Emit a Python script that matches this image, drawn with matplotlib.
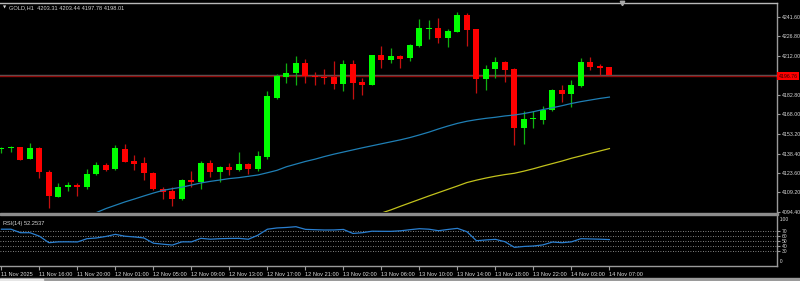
import matplotlib

matplotlib.use("Agg")

import matplotlib.pyplot as plt
from matplotlib.patches import Rectangle

# -----------------------------------------------------------------------------
# Data (GOLD, H1)
# -----------------------------------------------------------------------------

OPEN = [
    4141.9, 4142.8, 4143.4, 4134.4, 4142.9, 4124.8, 4106.0, 4113.0, 4114.8, 4113.3,
    4122.8, 4129.6, 4126.8, 4142.2, 4132.9, 4131.6, 4124.1, 4112.0, 4110.5, 4104.2,
    4118.5, 4116.8, 4131.4, 4124.3, 4128.1, 4125.8, 4130.6, 4126.6, 4136.1, 4180.3,
    4196.4, 4199.2, 4207.0, 4196.7, 4196.2, 4196.2, 4191.1, 4206.0, 4192.4, 4190.1,
    4212.8, 4209.2, 4211.7, 4210.2, 4219.5, 4232.5, 4233.4, 4225.3, 4230.3, 4242.9,
    4232.1, 4194.9, 4202.2, 4207.2, 4202.2, 4157.7, 4164.3, 4164.0, 4171.3, 4186.1,
    4183.4, 4189.6, 4207.2, 4204.5, 4203.31,
]
HIGH = [
    4143.7, 4144.2, 4143.7, 4146.7, 4143.4, 4125.8, 4116.3, 4117.3, 4116.3, 4126.6,
    4131.9, 4131.1, 4144.7, 4145.7, 4137.4, 4135.6, 4124.6, 4113.0, 4113.0, 4119.0,
    4125.3, 4132.6, 4133.4, 4129.1, 4131.1, 4139.7, 4131.6, 4140.4, 4185.9, 4198.4,
    4207.0, 4212.2, 4209.7, 4199.9, 4201.9, 4208.2, 4208.7, 4209.0, 4195.7, 4213.0,
    4219.5, 4217.8, 4212.8, 4220.8, 4239.6, 4239.1, 4240.6, 4232.3, 4245.4, 4244.2,
    4232.6, 4205.2, 4211.0, 4208.2, 4203.2, 4170.8, 4170.6, 4174.3, 4187.1, 4190.1,
    4193.9, 4210.5, 4211.5, 4205.7, 4203.44,
]
LOW = [
    4139.1, 4139.4, 4133.6, 4134.1, 4119.8, 4097.2, 4105.5, 4110.5, 4106.5, 4111.8,
    4122.3, 4125.6, 4126.3, 4131.9, 4126.1, 4118.3, 4111.0, 4104.0, 4099.0, 4103.5,
    4113.0, 4112.0, 4121.1, 4117.3, 4122.3, 4125.3, 4122.8, 4125.6, 4134.6, 4179.6,
    4191.9, 4190.2, 4191.9, 4190.4, 4190.9, 4187.1, 4185.9, 4179.3, 4182.9, 4189.9,
    4202.7, 4206.7, 4203.0, 4208.0, 4218.8, 4224.8, 4221.5, 4218.8, 4230.1, 4219.8,
    4184.1, 4186.4, 4195.2, 4192.7, 4144.9, 4145.7, 4157.7, 4160.8, 4170.6, 4177.6,
    4173.3, 4188.6, 4201.4, 4197.4, 4197.78,
]
CLOSE = [
    4142.0, 4143.0, 4133.9, 4142.7, 4124.8, 4106.5, 4113.3, 4114.8, 4113.5, 4123.1,
    4130.1, 4126.1, 4142.7, 4132.4, 4130.9, 4123.6, 4111.5, 4109.8, 4104.2, 4118.5,
    4116.8, 4131.6, 4124.3, 4128.1, 4126.1, 4130.6, 4126.8, 4136.6, 4181.6, 4196.7,
    4199.4, 4207.0, 4197.2, 4195.9, 4195.7, 4191.1, 4206.0, 4191.9, 4190.1, 4212.8,
    4209.0, 4211.7, 4210.0, 4220.3, 4232.8, 4233.1, 4225.3, 4230.6, 4242.9, 4231.6,
    4194.9, 4202.2, 4207.2, 4201.4, 4157.7, 4164.3, 4164.8, 4171.6, 4186.4, 4183.6,
    4190.1, 4207.2, 4204.0, 4203.0, 4198.01,
]

# moving averages, first bar index where each becomes visible
MA_BLUE_START = 10
MA_BLUE = [
    4094.0, 4097.0, 4099.5, 4102.0, 4104.2, 4106.5, 4108.7, 4110.7, 4112.0, 4113.1,
    4114.7, 4116.3, 4117.5, 4118.5, 4119.6, 4120.3, 4121.3, 4122.3, 4124.0, 4125.8,
    4128.5, 4130.5, 4132.5, 4134.2, 4136.2, 4138.0, 4139.6, 4141.2, 4142.8, 4144.3,
    4145.8, 4147.3, 4148.8, 4150.5, 4152.5, 4154.6, 4157.0, 4159.2, 4161.2, 4162.8,
    4164.0, 4165.0, 4165.8, 4166.8, 4167.5, 4168.6, 4170.0, 4171.6, 4173.0, 4174.5,
    4176.2, 4177.6, 4178.8, 4180.0, 4181.0,
]
MA_YELLOW_START = 40
MA_YELLOW = [
    4093.6, 4096.0, 4098.7, 4101.3, 4103.9, 4106.5, 4109.0, 4111.5, 4114.0, 4116.6,
    4118.4, 4120.0, 4121.4, 4122.6, 4123.6, 4125.2, 4127.0, 4129.0, 4130.9, 4132.8,
    4134.9, 4136.7, 4138.6, 4140.4, 4142.2,
]

RSI = [
    73.0, 73.0, 66.0, 66.0, 59.0, 46.0, 47.7, 47.8, 47.5, 54.0,
    55.5, 58.5, 62.7, 59.0, 57.5, 55.5, 45.0, 43.0, 41.3, 47.7,
    47.7, 54.7, 53.0, 54.0, 54.5, 54.7, 53.0, 61.0, 73.0, 75.5,
    76.5, 78.0, 72.7, 72.0, 71.4, 71.5, 72.5, 64.5, 66.0, 69.0,
    68.8, 68.7, 69.8, 72.0, 74.0, 73.0, 70.0, 72.5, 74.7, 68.0,
    50.0, 51.5, 52.7, 48.0, 36.7, 38.5, 39.4, 41.6, 47.3, 46.0,
    47.7, 54.0, 53.5, 53.0, 52.2537,
]
RSI_LEVELS = [70, 60, 50, 40, 30]

PRICE_TICKS = [4241.60, 4226.80, 4212.00, 4182.80, 4168.00, 4153.20,
               4138.40, 4123.60, 4109.20, 4094.40]

TIME_LABELS = [
    "11 Nov 2025", "11 Nov 16:00", "11 Nov 20:00", "12 Nov 01:00", "12 Nov 05:00",
    "12 Nov 09:00", "12 Nov 13:00", "12 Nov 17:00", "12 Nov 21:00", "13 Nov 02:00",
    "13 Nov 06:00", "13 Nov 10:00", "13 Nov 14:00", "13 Nov 18:00", "13 Nov 22:00",
    "14 Nov 03:00", "14 Nov 07:00",
]
TIME_LABEL_STEP = 4

ASK_PRICE = 4198.01
BID_PRICE = 4196.76
TITLE = "GOLD,H1  4203.31 4203.44 4197.78 4198.01"

# -----------------------------------------------------------------------------
# Style
# -----------------------------------------------------------------------------

W, H = 800, 281
BG = "#000000"
BULL = "#00ff00"
BEAR = "#ff0000"
BULL_WICK = "#10b010"
BEAR_WICK = "#c41010"
BLUE = "#1f7fb5"
YELLOW = "#c2c21c"
RSI_COLOR = "#2a7fd0"
FRAME = "#9a9a9a"
TEXT = "#d8d8d8"
FS = 4.1
FS_SCALE = 3.8

PLOT_RIGHT = 777  # px
MAIN_TOP, MAIN_BOTTOM = 2.5, 212.0  # px
RSI_TOP, RSI_BOTTOM = 215.7, 265.7  # px
BAR_PX = 9.5

plt.rcParams["font.family"] = ["Liberation Sans", "DejaVu Sans"]


def fig_rect(x0, y0, x1, y1):
    """pixel box (top-left origin) -> figure fraction [l, b, w, h]"""
    return [x0 / W, 1 - y1 / H, (x1 - x0) / W, (y1 - y0) / H]


fig = plt.figure(figsize=(W / 100, H / 100), dpi=100, facecolor=BG)

ax = fig.add_axes(fig_rect(0, MAIN_TOP, PLOT_RIGHT, MAIN_BOTTOM), facecolor=BG)
ax_rsi = fig.add_axes(fig_rect(0, RSI_TOP, PLOT_RIGHT, RSI_BOTTOM), facecolor=BG)

n_vis = PLOT_RIGHT / BAR_PX
for a in (ax, ax_rsi):
    a.set_xlim(-0.15, n_vis - 0.15)
    for side in ("left", "top", "bottom", "right"):
        a.spines[side].set_visible(False)
    a.spines["right"].set_visible(True)
    a.spines["right"].set_color(FRAME)
    a.spines["right"].set_linewidth(1.0)

ax.spines["top"].set_visible(True)
ax.spines["top"].set_color("#b8b8b8")
ax.spines["top"].set_linewidth(1.0)
ax_rsi.spines["bottom"].set_visible(True)
ax_rsi.spines["bottom"].set_color(FRAME)
ax_rsi.spines["bottom"].set_linewidth(1.0)

# price scale: 0.7537 USD per pixel
ax.set_ylim(4094.4, 4252.3)

# -----------------------------------------------------------------------------
# Candles
# -----------------------------------------------------------------------------

xs = list(range(len(OPEN)))
bull = [c >= o for o, c in zip(OPEN, CLOSE)]

ax.vlines(xs, LOW, HIGH, colors=[BULL_WICK if b else BEAR_WICK for b in bull],
          linewidth=0.9, zorder=2)

bottoms = [min(o, c) for o, c in zip(OPEN, CLOSE)]
heights = [max(abs(c - o), 0.8) for o, c in zip(OPEN, CLOSE)]
ax.bar(xs, heights, bottom=bottoms, width=0.63,
       color=[BULL if b else BEAR for b in bull], linewidth=0, zorder=3)

# moving averages
ax.plot(range(MA_BLUE_START, MA_BLUE_START + len(MA_BLUE)), MA_BLUE,
        color=BLUE, linewidth=0.9, zorder=4)
ax.plot(range(MA_YELLOW_START, MA_YELLOW_START + len(MA_YELLOW)), MA_YELLOW,
        color=YELLOW, linewidth=0.9, zorder=4)

# ask / bid lines
ax.axhline(ASK_PRICE, color="#5c5c5c", linewidth=1.0, zorder=1)
ax.axhline(BID_PRICE, color="#8e0a0a", linewidth=1.0, zorder=1)

# right price scale
ax.yaxis.tick_right()
ax.set_yticks(PRICE_TICKS, [f"{p:.2f}" for p in PRICE_TICKS])
ax.tick_params(axis="y", colors=FRAME, labelcolor=TEXT, labelsize=FS_SCALE,
               length=2.5, width=0.8, pad=0.8)
ax.set_xticks([])

ax.text(1.002, BID_PRICE, f"{BID_PRICE:.2f}", transform=ax.get_yaxis_transform(),
        ha="left", va="center", fontsize=FS_SCALE, color="#300000", clip_on=False,
        zorder=6, bbox=dict(boxstyle="square,pad=0.25", fc="#ff0000", ec="none"))

# title
ax.text(0.0035, 0.985, "\u25bc", transform=ax.transAxes, fontsize=3,
        color=TEXT, va="top", ha="left", family="DejaVu Sans")
ax.text(0.0115, 0.985, TITLE, transform=ax.transAxes, fontsize=FS,
        color=TEXT, va="top", ha="left")

# chart shift marker
ax.plot([65.3], [4252.0], marker="v", markersize=3.2, color="#a8a8a8",
        clip_on=False, zorder=6)

# -----------------------------------------------------------------------------
# RSI
# -----------------------------------------------------------------------------

ax_rsi.set_ylim(0, 100)
for lvl in RSI_LEVELS:
    ax_rsi.axhline(lvl, color="#b0b0b0", linewidth=0.6,
                   linestyle=(0, (1, 2)), zorder=1)
ax_rsi.plot(xs, RSI, color=RSI_COLOR, linewidth=0.9, zorder=3)

ax_rsi.yaxis.tick_right()
ax_rsi.set_yticks(RSI_LEVELS, [str(v) for v in RSI_LEVELS])
ax_rsi.tick_params(axis="y", colors=FRAME, labelcolor=TEXT, labelsize=FS_SCALE - 0.2,
                   length=2.5, width=0.8, pad=1.0)
ax_rsi.text(1.0, 0.93, "  100", transform=ax_rsi.transAxes, fontsize=FS_SCALE - 0.2,
            color=TEXT, ha="left", va="center")
ax_rsi.text(1.0, 0.08, "  0", transform=ax_rsi.transAxes, fontsize=FS_SCALE - 0.2,
            color=TEXT, ha="left", va="center")

ax_rsi.text(0.004, 0.9, f"RSI(14) {RSI[-1]:.4f}", transform=ax_rsi.transAxes,
            fontsize=FS, color=TEXT, ha="left", va="top")

# time axis
tick_pos = list(range(0, TIME_LABEL_STEP * len(TIME_LABELS), TIME_LABEL_STEP))
ax_rsi.set_xticks(tick_pos, TIME_LABELS)
ax_rsi.tick_params(axis="x", colors=FRAME, labelcolor=TEXT, labelsize=FS,
                   length=3, width=0.8, pad=1.5)
for lbl in ax_rsi.get_xticklabels():
    lbl.set_horizontalalignment("left")

# -----------------------------------------------------------------------------
# Window frame bits
# -----------------------------------------------------------------------------

fig.add_artist(Rectangle(fig_rect(0, MAIN_BOTTOM + 0.6, PLOT_RIGHT + 1, RSI_TOP - 0.3)[:2],
                         (PLOT_RIGHT + 1) / W, (RSI_TOP - MAIN_BOTTOM - 0.9) / H,
                         transform=fig.transFigure, color="#8c8c8c", zorder=5))
fig.add_artist(Rectangle(fig_rect(0, 277.5, W, H)[:2], 1, 3.5 / H,
                         transform=fig.transFigure, color="#9a9a9a", zorder=5))
fig.add_artist(Rectangle(fig_rect(0, 278.5, 43, H)[:2], 43 / W, 2.5 / H,
                         transform=fig.transFigure, color="#e6e6e6", zorder=6))

fig.savefig("out.png", dpi=100, facecolor=BG)
